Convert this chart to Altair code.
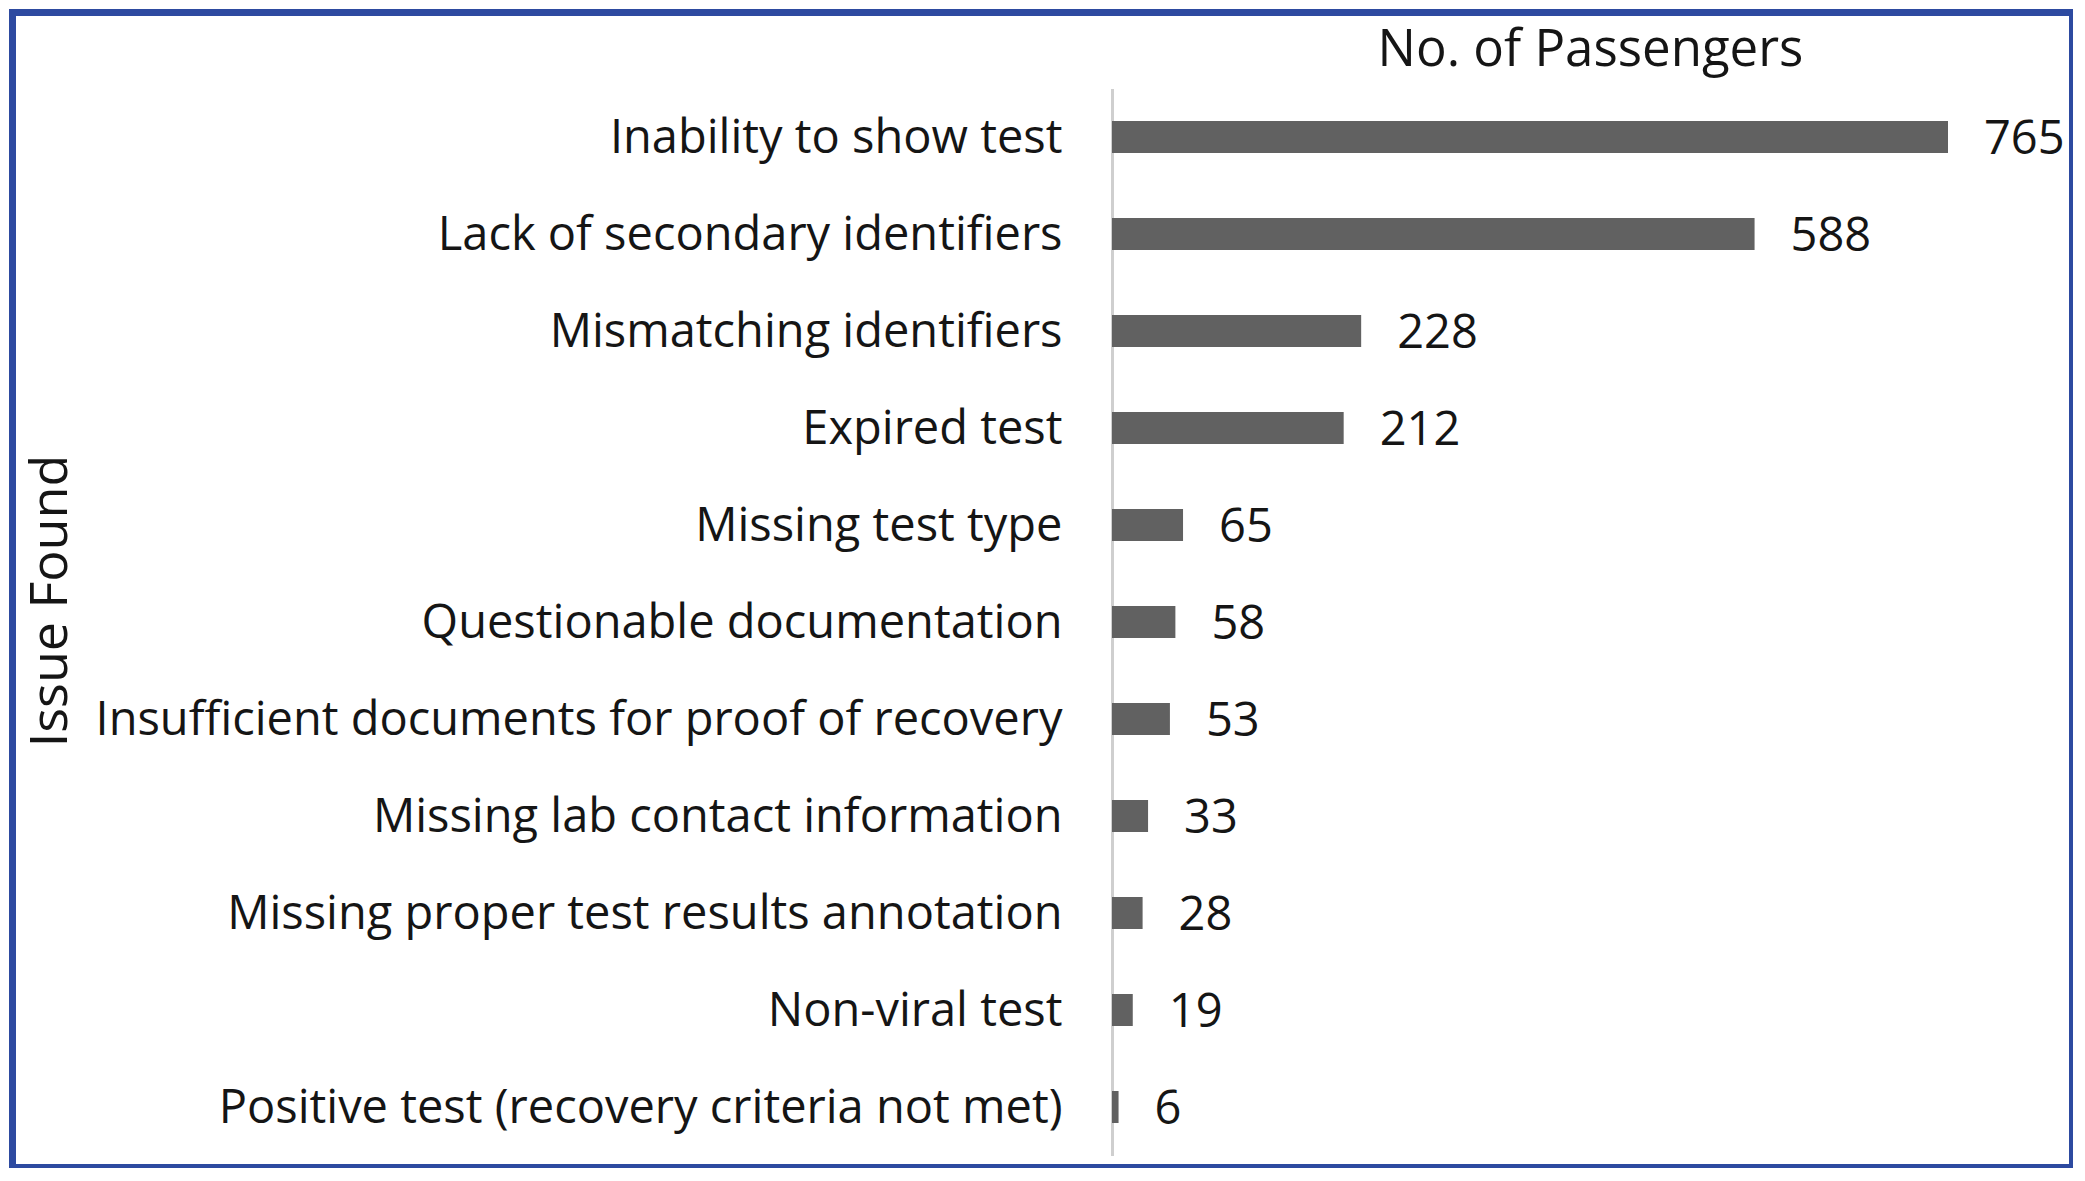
import altair as alt
import pandas as pd

issues = [
    "Inability to show test",
    "Lack of secondary identifiers",
    "Mismatching identifiers",
    "Expired test",
    "Missing test type",
    "Questionable documentation",
    "Insufficient documents for proof of recovery",
    "Missing lab contact information",
    "Missing proper test results annotation",
    "Non-viral test",
    "Positive test (recovery criteria not met)",
]
passengers = [765, 588, 228, 212, 65, 58, 53, 33, 28, 19, 6]

df = pd.DataFrame({"issue": issues, "passengers": passengers})

FONT = "Open Sans"
TEXT = "#151515"
W, H = 2060, 1155
X0, X1 = 1099.5, 1935.5

x = alt.X(
    "passengers:Q",
    scale=alt.Scale(domain=[0, max(passengers)], range=[X0, X1], nice=False, zero=True),
    axis=alt.Axis(
        orient="top", title="No. of Passengers", labels=False, ticks=False,
        domain=False, grid=False, titleX=1577.5, titleY=53,
        titleAlign="center", titleBaseline="alphabetic", titleFontSize=51,
        titleFont=FONT, titleFontWeight="normal", titleColor=TEXT,
    ),
)
y = alt.Y(
    "issue:N", sort=issues,
    scale=alt.Scale(range=[76, 1143], paddingInner=0.67, paddingOuter=0.335),
    axis=alt.Axis(
        orient="left", offset=-X0, title="Issue Found", ticks=False,
        domainColor="#cfcfcf", domainWidth=3, labelPadding=50, labelOffset=2,
        labelFontSize=47, labelFont=FONT, labelColor=TEXT, labelLimit=0,
        titleFont=FONT, titleFontSize=52, titleFontWeight="normal", titleColor=TEXT,
        titleX=-1062, titleY=588, titleAngle=270, titleAlign="center",
        titleBaseline="middle",
    ),
)

bars = alt.Chart(df).mark_bar(color="#616161").encode(x=x, y=y)
labels = alt.Chart(df).mark_text(
    align="left", baseline="middle", dx=36, dy=3, fontSize=47, font=FONT, color=TEXT
).encode(x=alt.X("passengers:Q"), y=alt.Y("issue:N", sort=issues), text="passengers:Q")

chart = (
    alt.layer(bars, labels)
    .properties(
        width=W, height=H,
        autosize=alt.AutoSizeParams(type="none"),
        padding={"left": 4.5, "top": 4.5, "right": 0, "bottom": 0},
        background="white",
    )
    .configure_view(stroke="#2d4aa0", strokeWidth=7, fill="white")
)

chart.save("out.html", embed_options={"renderer": "svg", "actions": False})
